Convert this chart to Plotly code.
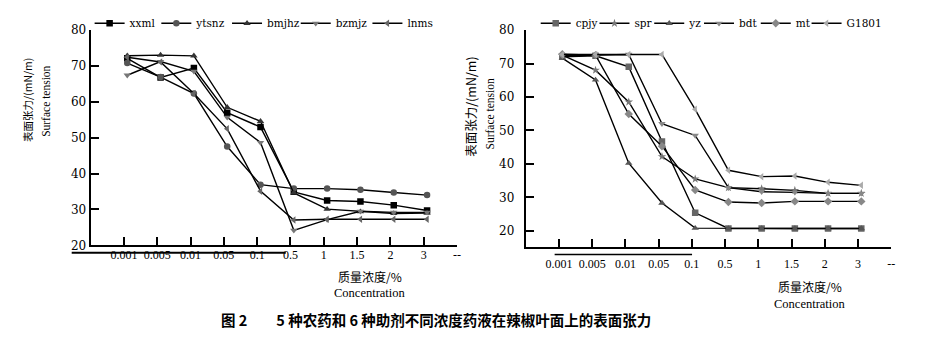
import plotly.graph_objects as go

# ---------------- data ----------------
categories = ["0.001", "0.005", "0.01", "0.05", "0.1", "0.5", "1", "1.5", "2", "3"]
tick_labels = categories + ["--"]

# left panel: pesticides
xxml = [72.0, 66.7, 69.3, 56.9, 52.9, 34.9, 32.5, 32.2, 31.2, 29.7]
ytsnz = [70.7, 66.8, 62.2, 47.5, 36.9, 35.8, 35.8, 35.5, 34.7, 34.0]
bmjhz = [72.7, 72.9, 72.7, 58.4, 54.5, 34.6, 30.1, 29.4, 28.9, 29.0]
bzmjz = [67.3, 71.1, 68.4, 55.6, 48.6, 24.2, 27.2, 29.5, 29.2, 29.2]
lnms = [72.3, 71.0, 62.2, 52.4, 35.1, 27.1, 27.3, 27.3, 27.3, 27.3]

# right panel: adjuvants
cpjy = [72.0, 72.3, 69.0, 46.7, 25.4, 20.7, 20.7, 20.7, 20.7, 20.7]
spr = [72.5, 68.0, 58.5, 42.2, 35.5, 32.9, 32.6, 32.1, 31.2, 31.2]
yz = [71.6, 65.1, 40.2, 28.3, 20.8, 20.7, 20.7, 20.7, 20.7, 20.7]
bdt = [72.3, 72.5, 72.7, 52.0, 48.5, 32.9, 31.7, 31.5, 31.2, 31.2]
mt = [72.8, 72.5, 54.9, 45.3, 32.2, 28.6, 28.3, 28.8, 28.8, 28.8]
G1801 = [72.7, 72.7, 72.7, 72.7, 56.3, 38.1, 36.2, 36.4, 34.5, 33.6]

left_names = ["xxml", "ytsnz", "bmjhz", "bzmjz", "lnms"]
left_values = [xxml, ytsnz, bmjhz, bzmjz, lnms]
left_symbols = ["square", "circle", "triangle-up", "triangle-down", "triangle-left"]
left_colors = ["#000000", "#555555", "#333333", "#777777", "#666666"]
left_legend_text_px = [130, 197, 268, 337, 409]

right_names = ["cpjy", "spr", "yz", "bdt", "mt", "G1801"]
right_values = [cpjy, spr, yz, bdt, mt, G1801]
right_symbols = ["square", "star", "triangle-up", "triangle-down", "diamond", "triangle-left"]
right_colors = ["#666666", "#777777", "#555555", "#888888", "#888888", "#aaaaaa"]
right_legend_text_px = [578, 637, 692, 742, 799, 850]

W, H = 942, 347
def px(x):
    return x / W
def py(y):
    return 1 - y / H

SERIF = "Liberation Serif"
DSERIF = "DejaVu Serif"
CJK = "Noto Sans CJK SC"

xs = [i + 1 for i in range(len(categories))]
tickpos = [i + 0.9 for i in range(len(tick_labels))]

fig = go.Figure()
legend_layout = {}
k = 0
panels = [
    (left_names, left_values, left_symbols, left_colors, left_legend_text_px, "x", "y"),
    (right_names, right_values, right_symbols, right_colors, right_legend_text_px, "x2", "y2"),
]
for names, values, symbols, colors, textpx, xa, ya in panels:
    for name, vals, sym, col, tx in zip(names, values, symbols, colors, textpx):
        k += 1
        lg = "legend" if k == 1 else f"legend{k}"
        fig.add_trace(go.Scatter(
            x=xs, y=vals, name=name, mode="lines+markers",
            line=dict(color="black", width=1.4),
            marker=dict(symbol=sym, size=6.5, color=col),
            xaxis=xa, yaxis=ya, legend=lg))
        legend_layout[lg] = dict(
            x=px(tx - 40), y=py(17), xanchor="left", yanchor="middle",
            orientation="h", itemwidth=30, bgcolor="rgba(0,0,0,0)",
            font=dict(family=DSERIF, size=10.5, color="black"))

xaxis_common = dict(
    tickmode="array", tickvals=tickpos, ticktext=tick_labels,
    range=[-0.1, 10.9], showline=True, linecolor="black", linewidth=2,
    ticks="inside", ticklen=8, tickwidth=2, tickcolor="black",
    showgrid=False, zeroline=False,
    tickfont=dict(family=SERIF, size=12, color="black"),
)
yaxis_common = dict(
    showline=True, linecolor="black", linewidth=2,
    ticks="inside", ticklen=8, tickwidth=2, tickcolor="black",
    showgrid=False, zeroline=False, tickmode="array",
    tickvals=[20, 30, 40, 50, 60, 70, 80],
    tickfont=dict(family=DSERIF, size=12, color="black"),
)

fig.update_layout(
    width=W, height=H, margin=dict(l=0, r=0, t=0, b=0),
    paper_bgcolor="white", plot_bgcolor="white",
    xaxis=dict(domain=[px(91), px(459)], anchor="y", ticklabelstandoff=-3, **xaxis_common),
    yaxis=dict(domain=[py(248.5), py(23.5)], range=[20, 80], anchor="x",
               ticklabelstandoff=0, **yaxis_common),
    xaxis2=dict(domain=[px(528), px(895)], anchor="y2", ticklabelstandoff=5, **xaxis_common),
    yaxis2=dict(domain=[py(250), py(24)], range=[15.2, 80], anchor="x2",
                ticklabelstandoff=7, **yaxis_common),
    showlegend=True,
    **legend_layout,
)

annotations = [
    # left y title
    dict(x=px(27), y=py(97), text="表面张力/(mN/m)", textangle=-90,
         font=dict(family=CJK, size=10.5, color="black")),
    dict(x=px(46), y=py(98), text="Surface tension", textangle=-90,
         font=dict(family=SERIF, size=11.5, color="black")),
    # right y title
    dict(x=px(473), y=py(104), text="表面张力/(mN/m)", textangle=-90,
         font=dict(family=CJK, size=12.5, color="black")),
    dict(x=px(492), y=py(111), text="Surface tension", textangle=-90,
         font=dict(family=SERIF, size=11.5, color="black")),
    # x titles
    dict(x=px(372), y=py(281), text="质量浓度/%", font=dict(family=CJK, size=12, color="black")),
    dict(x=px(372), y=py(298), text="Concentration", font=dict(family=SERIF, size=12.5, color="black")),
    dict(x=px(813), y=py(291), text="质量浓度/%", font=dict(family=CJK, size=12, color="black")),
    dict(x=px(813), y=py(309), text="Concentration", font=dict(family=SERIF, size=12.5, color="black")),
    # caption
    dict(x=px(438), y=py(326),
         text="<b>图 2　　5 种农药和 6 种助剂不同浓度药液在辣椒叶面上的表面张力</b>",
         font=dict(family=CJK, size=14.5, color="black")),
]
for a in annotations:
    a.update(xref="paper", yref="paper", showarrow=False, xanchor="center", yanchor="middle")
fig.update_layout(annotations=annotations)

# scan artifacts: stray rules over the tick labels
fig.add_shape(type="line", xref="paper", yref="paper", x0=px(72), x1=px(287), y0=py(256), y1=py(256),
              line=dict(color="black", width=2))
fig.add_shape(type="line", xref="paper", yref="paper", x0=px(557), x1=px(695), y0=py(258), y1=py(258),
              line=dict(color="black", width=1.5))

fig.write_html("out.html")
